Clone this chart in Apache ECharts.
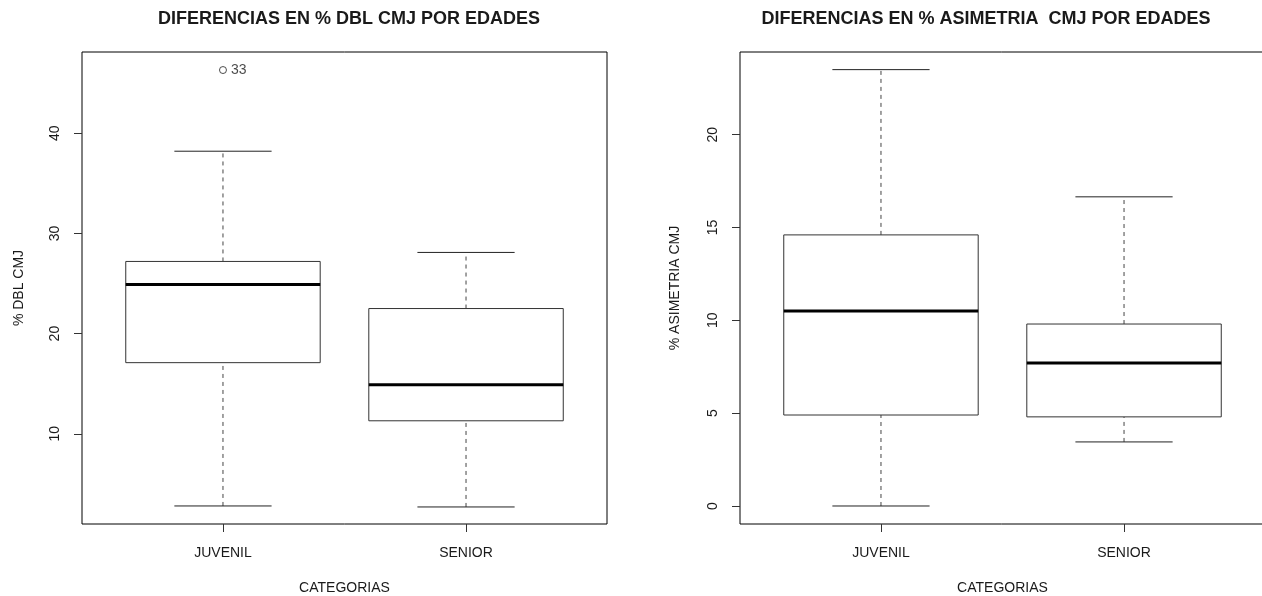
<!DOCTYPE html>
<html>
<head>
<meta charset="utf-8">
<script src="https://cdn.jsdelivr.net/npm/echarts@6/dist/echarts.min.js"></script>
<style>
  html, body { margin: 0; padding: 0; background: #fff; }
  #chart { width: 1262px; height: 596px; }
</style>
</head>
<body>
<div id="chart"></div>
<script>
// categorias
const categories = ['JUVENIL', 'SENIOR'];

// % DBL CMJ (min, q1, mediana, q3, max de bigotes)
const dblMin = [2.8, 2.7];
const dblQ1 = [17.1, 11.3];
const dblMed = [24.9, 14.9];
const dblQ3 = [27.2, 22.5];
const dblMax = [38.2, 28.1];
// atipicos: [categoria, valor, etiqueta]
const dblOutliers = [[1, 46.3, '33']];

// % ASIMETRIA CMJ
const asimMin = [0, 3.45];
const asimQ1 = [4.9, 4.8];
const asimMed = [10.5, 7.7];
const asimQ3 = [14.6, 9.8];
const asimMax = [23.5, 16.65];

// marcas del eje y
const dblTicks = [10, 20, 30, 40];
const asimTicks = [0, 5, 10, 15, 20];

const FONT = 'Liberation Sans, Arial, sans-serif';
const TXT = '#1a1a1a';

function boxRows(mins, q1, med, q3, maxs) {
  return categories.map((c, i) => [i + 1, mins[i], q1[i], med[i], q3[i], maxs[i]]);
}

// dibuja una caja estilo R
function renderBox(params, api) {
  const x = api.value(0);
  const lo = api.value(1);
  const q1 = api.value(2);
  const med = api.value(3);
  const q3 = api.value(4);
  const hi = api.value(5);
  const half = 0.4;
  const cap = 0.2;
  const c = (a, b) => api.coord([a, b]);
  const dash = { stroke: '#444', lineWidth: 1, lineDash: [4, 4] };
  const solid = { stroke: '#222', lineWidth: 1 };
  const seg = (a, b, style) => ({
    type: 'line',
    shape: { x1: a[0], y1: a[1], x2: b[0], y2: b[1] },
    style: style
  });
  const tl = c(x - half, q3);
  const br = c(x + half, q1);
  return {
    type: 'group',
    children: [
      seg(c(x, q3), c(x, hi), dash),
      seg(c(x, lo), c(x, q1), dash),
      seg(c(x - cap, hi), c(x + cap, hi), solid),
      seg(c(x - cap, lo), c(x + cap, lo), solid),
      {
        type: 'rect',
        shape: { x: tl[0], y: tl[1], width: br[0] - tl[0], height: br[1] - tl[1] },
        style: { fill: '#fff', stroke: '#333', lineWidth: 1 }
      },
      seg(c(x - half, med), c(x + half, med), { stroke: '#000', lineWidth: 3 })
    ]
  };
}

function xAxisFor(gridIndex) {
  return {
    type: 'value',
    gridIndex: gridIndex,
    position: 'bottom',
    min: 0.42,
    max: 2.58,
    name: 'CATEGORIAS',
    nameLocation: 'middle',
    nameGap: 57,
    nameTextStyle: { fontFamily: FONT, fontSize: 14, color: TXT },
    axisLine: { show: false, onZero: false },
    splitLine: { show: false },
    axisTick: { show: true, length: 8, customValues: [1, 2], lineStyle: { color: '#333' } },
    axisLabel: {
      customValues: [1, 2],
      margin: 22,
      fontFamily: FONT,
      fontSize: 14,
      color: TXT,
      formatter: (v) => categories[Math.round(v) - 1] || ''
    }
  };
}

function yAxisFor(gridIndex, name, min, max, ticks, gap) {
  return {
    type: 'value',
    gridIndex: gridIndex,
    position: 'left',
    min: min,
    max: max,
    name: name,
    nameLocation: 'middle',
    nameGap: gap,
    nameTextStyle: { fontFamily: FONT, fontSize: 14, color: TXT },
    axisLine: { show: false, onZero: false },
    splitLine: { show: false },
    axisTick: { show: true, length: 8, customValues: ticks, lineStyle: { color: '#333' } },
    axisLabel: {
      customValues: ticks,
      rotate: 90,
      margin: 20,
      fontFamily: FONT,
      fontSize: 14,
      color: TXT
    }
  };
}

const chart = echarts.init(document.getElementById('chart'), null, { renderer: 'canvas' });

const gridBase = {
  top: 52,
  width: 525,
  height: 472,
  show: true,
  borderColor: '#000',
  borderWidth: 1,
  backgroundColor: 'transparent',
  containLabel: false,
  outerBoundsMode: 'none'
};

const option = {
  backgroundColor: '#fff',
  animation: false,
  title: [
    {
      text: 'DIFERENCIAS EN % DBL CMJ POR EDADES',
      left: 344,
      textAlign: 'center',
      top: 5,
      textStyle: { fontFamily: FONT, fontSize: 18, fontWeight: 'bold', color: TXT }
    },
    {
      text: 'DIFERENCIAS EN % ASIMETRIA  CMJ POR EDADES',
      left: 981,
      textAlign: 'center',
      top: 5,
      textStyle: { fontFamily: FONT, fontSize: 18, fontWeight: 'bold', color: TXT }
    }
  ],
  grid: [
    Object.assign({}, gridBase, { left: 82 }),
    Object.assign({}, gridBase, { left: 740 })
  ],
  xAxis: [xAxisFor(0), xAxisFor(1)],
  yAxis: [
    yAxisFor(0, '% DBL CMJ', 1.0, 48.1, dblTicks, 56),
    yAxisFor(1, '% ASIMETRIA CMJ', -0.97, 24.45, asimTicks, 58)
  ],
  series: [
    {
      type: 'custom',
      xAxisIndex: 0,
      yAxisIndex: 0,
      renderItem: renderBox,
      encode: { x: 0, y: [1, 2, 3, 4, 5] },
      data: boxRows(dblMin, dblQ1, dblMed, dblQ3, dblMax)
    },
    {
      type: 'scatter',
      xAxisIndex: 0,
      yAxisIndex: 0,
      symbol: 'circle',
      symbolSize: 7,
      itemStyle: { color: '#fff', borderColor: '#222', borderWidth: 1 },
      label: {
        show: true,
        position: 'right',
        distance: 4,
        fontFamily: FONT,
        fontSize: 14,
        color: TXT,
        formatter: (p) => p.data[2]
      },
      data: dblOutliers
    },
    {
      type: 'custom',
      xAxisIndex: 1,
      yAxisIndex: 1,
      renderItem: renderBox,
      encode: { x: 0, y: [1, 2, 3, 4, 5] },
      data: boxRows(asimMin, asimQ1, asimMed, asimQ3, asimMax)
    }
  ]
};

chart.setOption(option);
</script>
</body>
</html>
